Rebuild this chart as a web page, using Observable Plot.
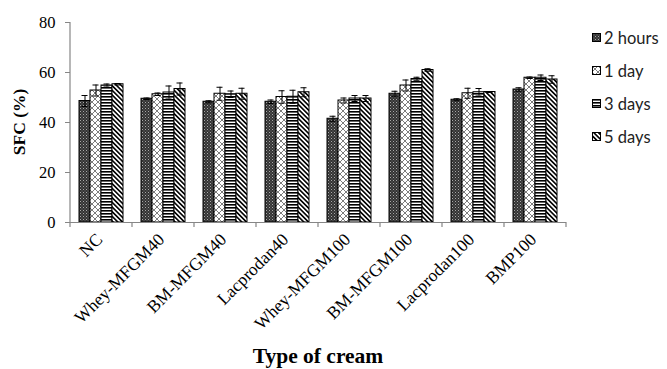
<!DOCTYPE html>
<html><head><meta charset="utf-8">
<script src="https://cdn.jsdelivr.net/npm/d3@7"></script>
<script src="https://cdn.jsdelivr.net/npm/@observablehq/plot@0.6"></script>
<style>
body{margin:0;background:#fff;}
#wrap{position:relative;width:667px;height:369px;}
#legend{position:absolute;left:592px;top:21px;font-family:Lato,"Open Sans",sans-serif;font-size:16.5px;color:#222;}
.item{display:flex;align-items:center;height:33px;}
.item svg{margin-right:3px;}
</style></head><body>
<svg width="0" height="0" style="position:absolute">
<defs>
<pattern id="pat0" width="3" height="3" patternUnits="userSpaceOnUse">
<rect width="3" height="3" fill="#333"/>
<rect x="0" y="0" width="1" height="1" fill="#a8a8a8"/>
<rect x="1.5" y="1.5" width="1" height="1" fill="#7a7a7a"/>
</pattern>
<pattern id="pat1" width="6" height="6" patternUnits="userSpaceOnUse">
<rect width="6" height="6" fill="#fff"/>
<path d="M0,0L6,6M6,0L0,6" stroke="#6e6e6e" stroke-width="0.9"/>
</pattern>
<pattern id="pat2" width="6" height="3" patternUnits="userSpaceOnUse">
<rect width="6" height="3" fill="#fff"/>
<rect y="0" width="6" height="1.6" fill="#000"/>
</pattern>
<pattern id="pat3" width="3.3" height="6" patternUnits="userSpaceOnUse" patternTransform="rotate(-45)">
<rect width="3.3" height="6" fill="#fff"/>
<rect x="0" width="1.6" height="6" fill="#000"/>
</pattern>
</defs></svg>
<div id="wrap"><div id="legend"></div></div>
<script>
const categories = ["NC","Whey-MFGM40","BM-MFGM40","Lacprodan40","Whey-MFGM100","BM-MFGM100","Lacprodan100","BMP100"];
const series = ["2 hours","1 day","3 days","5 days"];
const values2h = [48.6, 49.5, 48.3, 48.3, 41.5, 51.5, 49.1, 53.2];
const values1d = [52.8, 51.3, 51.5, 50.2, 48.8, 54.8, 51.7, 57.9];
const values3d = [54.8, 52.0, 51.3, 50.3, 49.6, 57.4, 52.1, 57.9];
const values5d = [55.3, 53.4, 51.5, 52.1, 49.6, 61.0, 52.2, 57.2];
const err2h = [2.2, 0.3, 0.4, 0.7, 1.0, 1.0, 0.4, 0.7];
const err1d = [2.2, 0.5, 2.6, 2.5, 1.0, 2.2, 2.0, 0.3];
const err3d = [0.6, 2.6, 1.3, 2.6, 1.2, 0.7, 1.5, 1.1];
const err5d = [0.3, 2.4, 2.2, 1.8, 1.2, 0.5, 0.2, 1.5];
const yTicks = [0, 20, 40, 60, 80];
const patterns = ["url(#pat0)","url(#pat1)","url(#pat2)","url(#pat3)"];

const valueSets = [values2h, values1d, values3d, values5d];
const errSets = [err2h, err1d, err3d, err5d];
const rows = [];
categories.forEach((c, i) => series.forEach((s, j) => {
  rows.push({cat: c, series: s, value: valueSets[j][i], err: errSets[j][i]});
}));

const plot = Plot.plot({
  width: 667, height: 369,
  marginLeft: 68, marginRight: 99, marginTop: 22, marginBottom: 147,
  style: {fontFamily: "'Liberation Serif', serif", fontSize: "16px", color: "#000", background: "#fff"},
  fx: {domain: categories, padding: 0, label: null},
  x: {domain: series, paddingInner: 0, paddingOuter: 0.72, axis: null},
  y: {domain: [0, 80], label: null},
  color: {domain: series, range: patterns},
  marks: [
    Plot.axisY({ticks: yTicks, tickSize: 5, tickPadding: 10, label: null, fontSize: 16.5}),
    Plot.axisFx({anchor: "bottom", tickRotate: -45, tickSize: 0, tickPadding: 13, fontSize: 17.5, label: null, dx: -2, dy: 1}),
    Plot.barY(rows, {fx: "cat", x: "series", y: "value", fill: "series", stroke: "#000", strokeWidth: 1}),
    Plot.ruleX(rows, {fx: "cat", x: "series", y1: d => d.value - d.err, y2: d => d.value + d.err, stroke: "#000", strokeWidth: 1}),
    Plot.tickY(rows, {fx: "cat", x: "series", y: d => d.value + d.err, inset: 2.5, stroke: "#000", strokeWidth: 1}),
    Plot.tickY(rows, {fx: "cat", x: "series", y: d => d.value - d.err, inset: 2.5, stroke: "#000", strokeWidth: 1}),
    Plot.ruleY([0], {stroke: "#868686", strokeWidth: 1.2})
  ]
});

const svg = d3.select(plot);
svg.selectAll("[aria-label='y-axis tick'] path, [aria-label='y-axis tick']").attr("stroke", "#868686");
const ys = plot.scale("y");
const fxs = plot.scale("fx");
const x0 = fxs.apply(categories[0]);
const x1 = fxs.apply(categories[categories.length - 1]) + fxs.bandwidth;
const yb = ys.apply(0), yt = ys.apply(80);
const g = svg.append("g").attr("stroke", "#868686").attr("stroke-width", 1.2);
g.append("line").attr("x1", x0).attr("x2", x0).attr("y1", yb).attr("y2", yt);
categories.map(c => fxs.apply(c)).concat([x1]).forEach(x => {
  g.append("line").attr("x1", x).attr("x2", x).attr("y1", yb).attr("y2", yb + 5);
});
svg.append("text").text("SFC (%)")
  .attr("transform", `translate(21,${(yb + yt) / 2}) rotate(-90)`)
  .attr("text-anchor", "middle").attr("dominant-baseline", "middle")
  .attr("font-weight", "bold").attr("font-size", 17.5).attr("fill", "#000");
svg.append("text").text("Type of cream")
  .attr("x", (x0 + x1) / 2).attr("y", 358)
  .attr("text-anchor", "middle").attr("dominant-baseline", "middle")
  .attr("font-weight", "bold").attr("font-size", 21.5).attr("fill", "#000");

document.getElementById("wrap").prepend(plot);

const legend = d3.select("#legend");
series.forEach((s, j) => {
  const it = legend.append("div").attr("class", "item");
  const sw = it.append("svg").attr("width", 9).attr("height", 9);
  sw.append("rect").attr("x", 0.5).attr("y", 0.5).attr("width", 8).attr("height", 8)
    .attr("fill", patterns[j]).attr("stroke", "#000");
  it.append("span").text(s);
});
</script>
</body></html>
